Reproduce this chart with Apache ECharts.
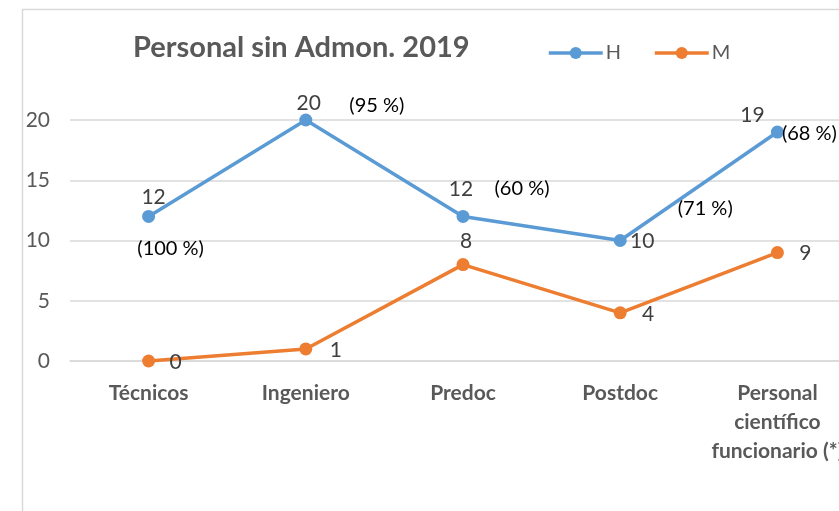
<!DOCTYPE html>
<html>
<head>
<meta charset="utf-8">
<script src="https://cdn.jsdelivr.net/npm/echarts@6/dist/echarts.min.js"></script>
<style>
  html, body { margin: 0; padding: 0; background: #fff; overflow: hidden; }
  /* el grafico original esta recortado por la derecha */
  #chart { width: 856px; height: 511px; }
</style>
</head>
<body>
<div id="chart"></div>
<script>
// categorias y valores
const categories = ['Técnicos', 'Ingeniero', 'Predoc', 'Postdoc', 'Personal\ncientífico\nfuncionario (*)']
const hombres = [12, 20, 12, 10, 19]
const mujeres = [0, 1, 8, 4, 9]
const porcentajes = ['(100 %)', '(95 %)', '(60 %)', '(71 %)', '(68 %)']

const FONT = 'Lato'
const GRAY = '#595959'

// desplazamiento de cada etiqueta respecto a su punto (solo estilo)
const hLabelOff = [[5, -19], [3, -17], [-2, -27], [22, 1], [-25, -17]]
const mLabelOff = [[27, 1], [30, 1], [3, -23], [28, 1], [28, 1]]
const pctOff = [[22, 32], [71, -14], [59, -28], [85, -32], [32, 1]]

const chart = echarts.init(document.getElementById('chart'))

const valueLabel = { show: true, position: 'inside', fontFamily: FONT, fontSize: 21, color: '#404040' }

const option = {
  animation: false,
  textStyle: { fontFamily: FONT },
  graphic: [{
    type: 'rect',
    left: 20, top: 7,
    shape: { width: 900, height: 600 },
    style: { fill: 'none', stroke: '#d9d9d9', lineWidth: 1.5 },
    z: -1
  }],
  title: {
    text: 'Personal sin Admon. 2019',
    left: 128, top: 28,
    textStyle: { fontFamily: FONT, fontSize: 29, fontWeight: 'bold', color: GRAY }
  },
  legend: {
    data: ['H', 'M'],
    left: 542, top: 38,
    itemWidth: 54, itemHeight: 15, itemGap: 32,
    lineStyle: { width: 3.5 },
    textStyle: { fontFamily: FONT, fontSize: 20, color: GRAY, padding: [0, 0, 0, -2] }
  },
  grid: { left: 70, right: 0, top: 120, bottom: 150 },
  xAxis: {
    type: 'category',
    data: categories,
    boundaryGap: true,
    axisLine: { lineStyle: { color: '#d9d9d9', width: 1.5 } },
    axisTick: { show: false },
    axisLabel: {
      margin: 18, interval: 0,
      fontFamily: FONT, fontSize: 21, fontWeight: 'bold', color: GRAY,
      lineHeight: 29
    }
  },
  yAxis: {
    type: 'value',
    min: 0, max: 20, interval: 5,
    axisLine: { show: false },
    axisTick: { show: false },
    splitLine: { lineStyle: { color: '#d9d9d9', width: 1.5 } },
    axisLabel: { margin: 20, fontFamily: FONT, fontSize: 21, color: GRAY }
  },
  series: [
    {
      name: 'H',
      type: 'line',
      color: '#5B9BD5',
      symbol: 'circle', symbolSize: 13,
      lineStyle: { width: 3.5 },
      data: hombres.map((v, i) => ({ value: v, label: { offset: hLabelOff[i] } })),
      label: valueLabel,
      z: 3
    },
    {
      name: 'M',
      type: 'line',
      color: '#ED7D31',
      symbol: 'circle', symbolSize: 13,
      lineStyle: { width: 3.5 },
      data: mujeres.map((v, i) => ({ value: v, label: { offset: mLabelOff[i] } })),
      label: valueLabel,
      z: 3
    },
    {
      // porcentajes junto a la serie H
      name: 'pct',
      type: 'line',
      symbol: 'circle', symbolSize: 1,
      itemStyle: { color: 'rgba(0,0,0,0)' },
      silent: true,
      lineStyle: { opacity: 0 },
      data: hombres.map((v, i) => ({ value: v, label: { offset: pctOff[i] } })),
      label: {
        show: true, position: 'inside',
        formatter: p => porcentajes[p.dataIndex],
        fontFamily: FONT, fontSize: 20, color: '#000'
      },
      z: 4
    }
  ]
}

chart.setOption(option)
</script>
</body>
</html>
